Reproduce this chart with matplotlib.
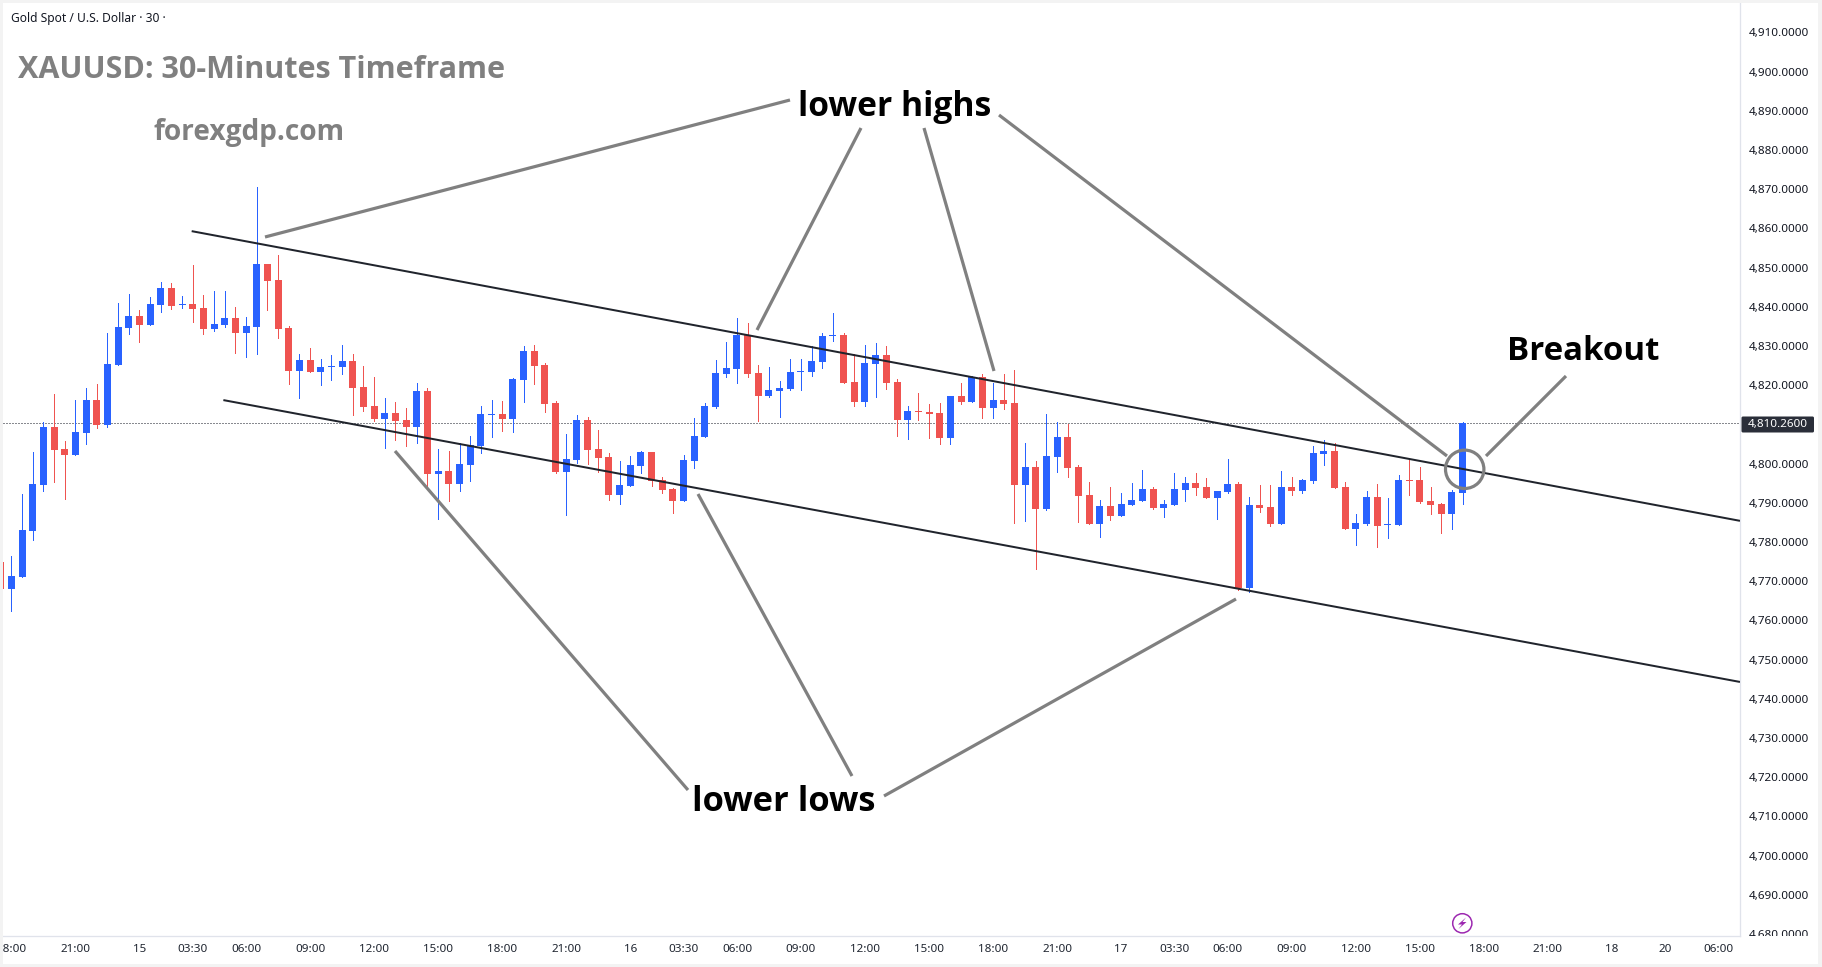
import matplotlib
matplotlib.use("Agg")
import matplotlib.pyplot as plt
import numpy as np
from matplotlib.lines import Line2D
from matplotlib.patches import Circle, Polygon, Rectangle, FancyBboxPatch
from matplotlib.transforms import Bbox

# XAUUSD 30-minute candles; the first bar sits at index -1 and is cut by the pane edge
first_bar = -1
opens = [4775.0,
    4768.0, 4771.1, 4782.8, 4794.5, 4809.3, 4803.7, 4802.2, 4807.8, 4816.2, 4809.9,
    4825.2, 4834.6, 4837.7, 4835.4, 4840.5, 4844.8, 4840.5, 4840.7, 4839.7, 4834.3,
    4835.4, 4837.1, 4833.3, 4834.9, 4850.9, 4846.8, 4834.6, 4823.6, 4826.4, 4823.4,
    4824.6, 4824.6, 4826.2, 4819.5, 4814.7, 4811.4, 4812.9, 4811.1, 4809.3, 4818.5,
    4797.4, 4798.1, 4794.8, 4799.6, 4804.5, 4812.4, 4812.6, 4811.3, 4821.3, 4828.7,
    4825.1, 4815.4, 4797.8, 4800.9, 4811.1, 4803.7, 4801.7, 4792.0, 4794.3, 4799.4,
    4802.9, 4795.8, 4793.5, 4790.4, 4800.6, 4806.8, 4814.4, 4822.8, 4824.1, 4832.8,
    4823.1, 4817.2, 4818.5, 4819.0, 4823.3, 4823.3, 4825.9, 4832.5, 4832.8, 4820.8,
    4815.7, 4825.4, 4827.7, 4820.8, 4811.1, 4813.4, 4813.1, 4812.9, 4806.5, 4817.2,
    4815.7, 4822.1, 4814.2, 4816.2, 4815.4, 4794.5, 4799.1, 4788.4, 4801.7, 4806.8,
    4799.1, 4792.0, 4784.6, 4789.2, 4786.6, 4789.4, 4790.4, 4793.5, 4788.6, 4789.4,
    4793.2, 4795.0, 4794.0, 4791.2, 4792.8, 4794.8, 4768.2, 4789.4, 4788.9, 4784.6,
    4794.0, 4793.0, 4795.5, 4802.4, 4803.2, 4794.0, 4783.3, 4784.6, 4791.5, 4784.3,
    4784.3, 4795.8, 4795.8, 4790.4, 4789.7, 4787.1, 4792.5]
closes = [4768.0,
    4771.3, 4783.1, 4794.8, 4809.3, 4803.5, 4802.2, 4808.1, 4816.2, 4809.9, 4825.4,
    4834.9, 4837.7, 4835.4, 4840.7, 4844.8, 4840.2, 4840.7, 4839.4, 4834.3, 4835.6,
    4837.1, 4833.3, 4835.1, 4850.9, 4846.6, 4834.3, 4823.6, 4826.4, 4823.4, 4824.6,
    4824.9, 4826.2, 4819.3, 4814.4, 4811.4, 4812.9, 4810.9, 4809.3, 4818.5, 4797.4,
    4798.1, 4794.8, 4799.9, 4804.7, 4812.6, 4812.6, 4811.3, 4821.5, 4828.7, 4824.9,
    4815.2, 4797.8, 4801.1, 4811.1, 4803.4, 4801.4, 4792.0, 4794.5, 4799.6, 4802.9,
    4795.5, 4793.2, 4790.4, 4800.9, 4807.0, 4814.7, 4823.1, 4824.4, 4832.8, 4822.8,
    4817.2, 4818.7, 4819.3, 4823.3, 4823.6, 4826.1, 4832.5, 4832.8, 4820.5, 4815.7,
    4825.6, 4827.7, 4820.5, 4811.1, 4813.4, 4813.1, 4812.6, 4806.5, 4817.2, 4815.7,
    4822.1, 4814.2, 4816.2, 4815.2, 4794.5, 4799.1, 4788.4, 4801.9, 4806.8, 4798.8,
    4791.7, 4784.6, 4789.2, 4786.6, 4789.7, 4790.7, 4793.5, 4788.6, 4789.7, 4793.5,
    4795.0, 4793.8, 4791.2, 4793.0, 4794.8, 4768.2, 4789.4, 4788.6, 4784.6, 4794.0,
    4793.0, 4795.8, 4802.7, 4803.2, 4793.8, 4783.3, 4784.8, 4791.5, 4784.1, 4784.6,
    4795.8, 4795.5, 4790.2, 4789.4, 4787.1, 4792.7, 4810.26]
highs = [4775.0,
    4776.4, 4792.3, 4803.0, 4810.6, 4817.8, 4805.8, 4816.2, 4819.3, 4820.3, 4833.3,
    4841.0, 4843.3, 4839.2, 4842.5, 4846.3, 4846.1, 4842.8, 4850.7, 4843.0, 4844.0,
    4844.0, 4840.0, 4837.4, 4870.6, 4850.9, 4853.2, 4835.1, 4828.0, 4829.5, 4826.7,
    4827.7, 4830.3, 4828.0, 4824.9, 4822.1, 4816.7, 4815.7, 4814.2, 4820.6, 4819.3,
    4803.7, 4803.2, 4805.2, 4807.0, 4814.7, 4816.2, 4815.9, 4821.8, 4830.0, 4830.2,
    4825.6, 4815.9, 4807.5, 4812.4, 4811.9, 4808.5, 4802.7, 4800.6, 4801.9, 4803.2,
    4802.9, 4796.5, 4793.7, 4802.2, 4811.6, 4815.4, 4826.4, 4831.0, 4837.1, 4835.8,
    4825.1, 4824.6, 4821.0, 4826.6, 4826.6, 4830.0, 4833.3, 4838.4, 4833.3, 4827.9,
    4830.2, 4830.7, 4830.0, 4821.5, 4814.7, 4818.0, 4815.2, 4815.4, 4817.2, 4820.5,
    4822.3, 4822.8, 4820.5, 4822.8, 4823.8, 4805.2, 4800.6, 4812.6, 4810.6, 4810.1,
    4799.6, 4795.3, 4790.7, 4794.0, 4792.5, 4795.0, 4798.3, 4794.0, 4790.7, 4797.6,
    4796.6, 4797.6, 4796.3, 4793.0, 4801.2, 4795.3, 4791.5, 4794.5, 4794.5, 4798.1,
    4796.6, 4796.0, 4804.5, 4806.0, 4805.2, 4795.3, 4787.1, 4793.0, 4794.8, 4791.2,
    4797.1, 4800.9, 4799.1, 4794.0, 4789.9, 4793.2, 4810.6]
lows = [4768.0,
    4762.5, 4771.1, 4780.5, 4793.0, 4795.3, 4791.0, 4802.2, 4805.0, 4809.1, 4809.3,
    4825.2, 4833.1, 4831.0, 4835.4, 4838.7, 4839.4, 4839.7, 4836.1, 4833.1, 4833.8,
    4834.9, 4828.2, 4827.2, 4828.0, 4839.2, 4832.0, 4820.3, 4816.7, 4823.4, 4820.1,
    4821.3, 4822.9, 4812.4, 4813.4, 4810.9, 4804.0, 4806.0, 4804.5, 4805.3, 4793.7,
    4785.9, 4790.5, 4793.0, 4795.6, 4802.8, 4806.8, 4808.3, 4808.0, 4815.7, 4820.3,
    4813.1, 4797.6, 4786.9, 4800.1, 4799.9, 4797.8, 4790.7, 4789.7, 4794.3, 4797.6,
    4794.3, 4792.5, 4787.4, 4790.4, 4798.8, 4806.8, 4814.2, 4822.1, 4820.5, 4822.1,
    4810.8, 4817.0, 4811.9, 4818.7, 4818.7, 4822.3, 4824.4, 4831.2, 4820.5, 4814.7,
    4814.7, 4817.0, 4819.0, 4807.0, 4806.2, 4811.1, 4806.5, 4805.0, 4805.0, 4815.2,
    4815.7, 4811.6, 4811.6, 4813.9, 4784.8, 4785.3, 4773.1, 4788.1, 4797.8, 4796.6,
    4785.1, 4784.6, 4781.2, 4785.6, 4786.6, 4789.4, 4790.4, 4788.4, 4786.3, 4789.4,
    4790.4, 4792.0, 4791.2, 4785.9, 4792.5, 4767.7, 4767.2, 4787.6, 4784.1, 4784.6,
    4792.0, 4792.5, 4795.0, 4799.6, 4793.8, 4783.3, 4779.2, 4784.3, 4778.7, 4781.0,
    4784.3, 4792.0, 4789.9, 4787.1, 4782.3, 4783.3, 4789.7]

last_price = 4810.26
price_ticks = list(range(4680, 4920, 10))

# time-axis labels: (bar index, text)
time_bars = [0, 6, 12, 17, 22, 28, 34, 40, 46, 52, 58, 63, 68, 74, 80, 86, 92, 98,
             104, 109, 114, 120, 126, 132, 138, 144, 150, 155, 160]
time_labels = ["18:00", "21:00", "15", "03:30", "06:00", "09:00", "12:00", "15:00", "18:00",
               "21:00", "16", "03:30", "06:00", "09:00", "12:00", "15:00", "18:00", "21:00",
               "17", "03:30", "06:00", "09:00", "12:00", "15:00", "18:00", "21:00", "18", "20", "06:00"]
bold_time_labels = {"20"}

# descending channel: (bar index, price) at each end of the two rails
upper_rail_bars, upper_rail_prices = [16.9, 162.0], [4859.3, 4785.4]
lower_rail_bars, lower_rail_prices = [19.87, 162.0], [4816.2, 4744.3]

W, H = 1822, 967
DPI = 100
BLUE, RED = "#2962ff", "#ef5350"
GREY = "#808080"
AXIS_LINE = "#e0e3eb"
FRAME = "#f3f3f3"
TEXT = "#131722"
PANE_L, PANE_R, PANE_T, PANE_B = 3, 1740, 3, 936

plt.rcParams["font.family"] = ["Noto Sans", "DejaVu Sans"]
fig = plt.figure(figsize=(W / DPI, H / DPI), dpi=DPI, facecolor="white")
ax = fig.add_axes([PANE_L / W, 1 - PANE_B / H, (PANE_R - PANE_L) / W, (PANE_B - PANE_T) / H])

# pane scales: one bar is 10.67 px and one price unit is 3.92 px
ax.set_xlim(-0.781, 162.0)
ax.set_ylim(4679.49, 4917.5)
ax.set_facecolor("white")

bars = np.arange(first_bar, first_bar + len(opens))
o, h, l, c = map(np.array, (opens, highs, lows, closes))
colors = [BLUE if cl >= op else RED for op, cl in zip(o, c)]

px = 72 / DPI
wicks = ax.vlines(bars, l, h, colors=colors, linewidth=1.0 * px, zorder=2)
wicks.set_snap(True)
wicks.set_antialiased(False)
ax.bar(bars, np.maximum(np.abs(c - o), 0.25), bottom=np.minimum(o, c), width=0.656,
       color=colors, linewidth=0, zorder=3)

ax.axhline(last_price, color="#131722", linewidth=1.0 * px, linestyle=(0, (1, 2)), zorder=1)

for xs, ys in ((upper_rail_bars, upper_rail_prices), (lower_rail_bars, lower_rail_prices)):
    ax.plot(xs, ys, color="#20242c", linewidth=2.0 * px, zorder=4, solid_capstyle="butt")

# axis furniture
for side in ("top", "left"):
    ax.spines[side].set_visible(False)
for side in ("right", "bottom"):
    ax.spines[side].set_color(AXIS_LINE)
    ax.spines[side].set_linewidth(1.3 * px)
ax.yaxis.tick_right()
ax.set_yticks(price_ticks)
ax.set_yticklabels([f"{p:,.4f}" for p in price_ticks], fontsize=8.4, color=TEXT)
ax.tick_params(axis="y", length=0, pad=8.4 / DPI * 72)
ax.set_xticks(time_bars)
ax.set_xticklabels(time_labels, fontsize=8.4, color="#1f2530")
ax.tick_params(axis="x", length=0, pad=7.5 / DPI * 72)

clip = Bbox([[PANE_L, H - 963], [1817, H - PANE_T]])
price_clip = Bbox([[PANE_R, H - PANE_B], [1817, H - PANE_T]])
for lab in ax.get_xticklabels():
    lab.set_clip_box(clip)
    lab.set_clip_on(True)
    if lab.get_text() in bold_time_labels:
        lab.set_fontweight("bold")
for lab in ax.get_yticklabels():
    lab.set_clip_box(price_clip)
    lab.set_clip_on(True)

# overlay in image pixels for the hand-drawn notes
ov = fig.add_axes([0, 0, 1, 1], facecolor="none", zorder=5)
ov.set_xlim(0, W)
ov.set_ylim(H, 0)
ov.axis("off")

notes = [((265, 237), (790, 100)), ((757, 330), (861, 128)), ((994, 371), (924, 128)),
         ((999, 115), (1447, 456)), ((1566, 376), (1486, 456)), ((395, 451), (688, 790)),
         ((698, 494), (852, 776)), ((1236, 599), (884, 796))]
for (x0, y0), (x1, y1) in notes:
    ov.add_line(Line2D([x0, x1], [y0, y1], color=GREY, linewidth=3.2 * px, solid_capstyle="butt"))
ov.add_patch(Circle((1464.7, 469.3), 19.2, fill=False, edgecolor=GREY, linewidth=3.2 * px))

ann_font = dict(family=["Open Sans", "DejaVu Sans"], fontweight="bold", va="center", ha="center")
ov.text(895, 106.6, "lower highs", fontsize=24.2, color="black", **ann_font)
ov.text(784, 802, "lower lows", fontsize=24.8, color="black", **ann_font)
ov.text(1583, 351, "Breakout", fontsize=23.8, color="black", **ann_font)
ov.text(18.5, 70.3, "XAUUSD: 30-Minutes Timeframe", fontsize=22, color=GREY,
        **{**ann_font, "ha": "left"})
ov.text(249.5, 132.5, "forexgdp.com", fontsize=20.2, color=GREY, **ann_font)
ov.text(11, 18.5, "Gold Spot / U.S. Dollar · 30 ·", fontsize=8.65, color=TEXT, va="center", ha="left")

# last-price tag on the price scale
ov.add_patch(FancyBboxPatch((1741.5, 416.5), 72.5, 16, boxstyle="round,pad=0,rounding_size=1.5",
                            facecolor="#2a2e39", edgecolor="none"))
ov.text(1778, 424, f"{last_price:,.4f}", fontsize=8.4, color="white", fontweight="bold",
        va="center", ha="center")

# flash marker on the time scale
ov.add_patch(Circle((1462.3, 923.3), 9.6, fill=False, edgecolor="#9c27b0", linewidth=1.5 * px))
ov.add_patch(Polygon([(1466, 917.5), (1458, 924.5), (1462, 924.5), (1458.5, 929),
                      (1466.5, 922), (1462.5, 922)], closed=True, facecolor="#9c27b0",
                     edgecolor="none"))

# pale frame round the whole widget
for x, y, w, hh in ((0, 0, W, 3), (0, 963.5, W, 3.5), (0, 0, 3, H), (1817.5, 0, 4.5, H)):
    ov.add_patch(Rectangle((x, y), w, hh, facecolor=FRAME, edgecolor="none", clip_on=False))

fig.savefig("out.png", dpi=DPI, facecolor="white")
